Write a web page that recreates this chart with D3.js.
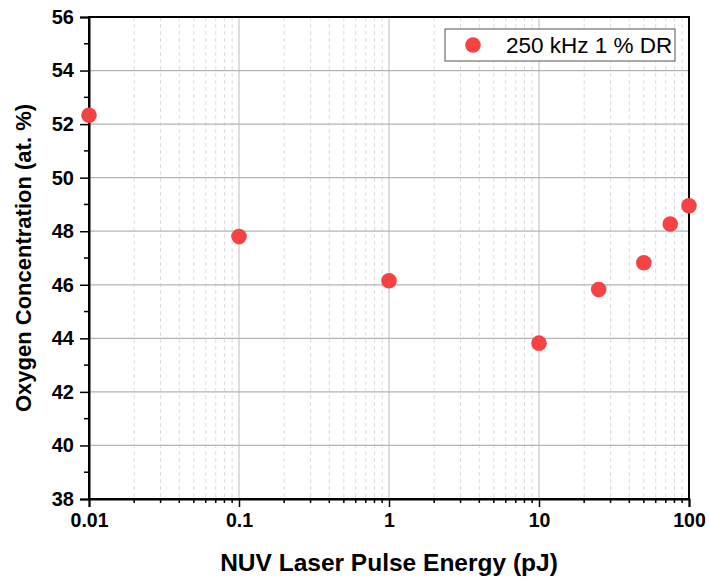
<!DOCTYPE html>
<html>
<head>
<meta charset="utf-8">
<script src="https://cdn.jsdelivr.net/npm/d3@7"></script>
<style>
  body { margin: 0; background: #fff; }
  svg { font-family: "Liberation Sans", Arial, sans-serif; }
</style>
</head>
<body>
<div id="chart-area"></div>
<script>
// data
const energies = [0.01, 0.1, 1, 10, 25, 50, 75, 100]
const oxygen = [52.33, 47.8, 46.15, 43.82, 45.82, 46.82, 48.27, 48.95]
const seriesName = "250 kHz 1 % DR"
const xTicks = [0.01, 0.1, 1, 10, 100]
const yTicks = [38, 40, 42, 44, 46, 48, 50, 52, 54, 56]

const W = 710, H = 582
const MARGIN = {LEFT: 89, RIGHT: 21, TOP: 17, BOTTOM: 83}
const WIDTH = W - MARGIN.LEFT - MARGIN.RIGHT
const HEIGHT = H - MARGIN.TOP - MARGIN.BOTTOM
const RED = "#f54343"

const svg = d3.select("#chart-area").append("svg")
    .attr("width", W)
    .attr("height", H)

const g = svg.append("g")
    .attr("transform", `translate(${MARGIN.LEFT}, ${MARGIN.TOP})`)

const x = d3.scaleLog()
    .domain([0.01, 100])
    .range([0, WIDTH])

const y = d3.scaleLinear()
    .domain([38, 56])
    .range([HEIGHT, 0])

// minor positions 2..9 in each decade
const minorX = x.ticks().filter(v => !xTicks.includes(v))
const minorY = d3.range(39, 56, 2)

// grid
g.append("g").selectAll("line")
    .data(minorX)
    .join("line")
    .attr("x1", d => x(d)).attr("x2", d => x(d))
    .attr("y1", 0).attr("y2", HEIGHT)
    .attr("stroke", "#dcdcdc")
    .attr("stroke-dasharray", "4,3")

g.append("g").selectAll("line")
    .data(xTicks)
    .join("line")
    .attr("x1", d => x(d)).attr("x2", d => x(d))
    .attr("y1", 0).attr("y2", HEIGHT)
    .attr("stroke", "#d2d2d2")
    .attr("stroke-width", 1.5)

g.append("g").selectAll("line")
    .data(yTicks)
    .join("line")
    .attr("x1", 0).attr("x2", WIDTH)
    .attr("y1", d => y(d)).attr("y2", d => y(d))
    .attr("stroke", "#b4b4b4")
    .attr("stroke-width", 1.2)

// frame
g.append("rect")
    .attr("width", WIDTH)
    .attr("height", HEIGHT)
    .attr("fill", "none")
    .attr("stroke", "#000")
    .attr("stroke-width", 2)

// x axis
const xAxisCall = d3.axisBottom(x)
    .tickValues(xTicks)
    .tickFormat(d => d3.format("~g")(d))
    .tickSize(8)
    .tickPadding(6)

const xAxis = g.append("g")
    .attr("class", "x axis")
    .attr("transform", `translate(0, ${HEIGHT})`)
    .call(xAxisCall)

xAxis.append("g").selectAll("line")
    .data(minorX)
    .join("line")
    .attr("x1", d => x(d)).attr("x2", d => x(d))
    .attr("y1", 0).attr("y2", 4)
    .attr("stroke", "#000")
    .attr("stroke-width", 1.5)

// y axis
const yAxisCall = d3.axisLeft(y)
    .tickValues(yTicks)
    .tickSize(9)
    .tickPadding(6)

const yAxis = g.append("g")
    .attr("class", "y axis")
    .call(yAxisCall)

yAxis.append("g").selectAll("line")
    .data(minorY)
    .join("line")
    .attr("y1", d => y(d)).attr("y2", d => y(d))
    .attr("x1", 0).attr("x2", -5)
    .attr("stroke", "#000")
    .attr("stroke-width", 1.5)

g.selectAll(".axis .domain").attr("stroke-width", 2)
g.selectAll(".axis .tick line").attr("stroke-width", 1.5)
g.selectAll(".axis text")
    .attr("font-size", "19.5px")
    .attr("font-weight", "bold")
    .attr("font-family", "Liberation Sans, Arial, sans-serif")
    .attr("fill", "#000")
yAxis.selectAll(".tick text").attr("font-size", "20px")

// axis titles
g.append("text")
    .attr("x", WIDTH / 2)
    .attr("y", HEIGHT + 72)
    .attr("font-size", "24.5px")
    .attr("font-weight", "bold")
    .attr("text-anchor", "middle")
    .text("NUV Laser Pulse Energy (pJ)")

g.append("text")
    .attr("x", -(HEIGHT / 2))
    .attr("y", -58)
    .attr("font-size", "22px")
    .attr("font-weight", "bold")
    .attr("text-anchor", "middle")
    .attr("transform", "rotate(-90)")
    .text("Oxygen Concentration (at. %)")

// points
g.append("g").selectAll("circle")
    .data(energies.map((e, i) => ({e, o: oxygen[i]})))
    .join("circle")
    .attr("cx", d => x(d.e))
    .attr("cy", d => y(d.o))
    .attr("r", 7.8)
    .attr("fill", RED)

// legend
const legend = g.append("g")
    .attr("transform", `translate(${445 - MARGIN.LEFT}, ${29 - MARGIN.TOP})`)

legend.append("rect")
    .attr("width", 230)
    .attr("height", 32)
    .attr("fill", "#fff")
    .attr("stroke", "#555")
    .attr("stroke-width", 1)

legend.append("circle")
    .attr("cx", 28)
    .attr("cy", 16)
    .attr("r", 7.8)
    .attr("fill", RED)

legend.append("text")
    .attr("x", 61)
    .attr("y", 24)
    .attr("font-size", "22.5px")
    .text(seriesName)
</script>
</body>
</html>
